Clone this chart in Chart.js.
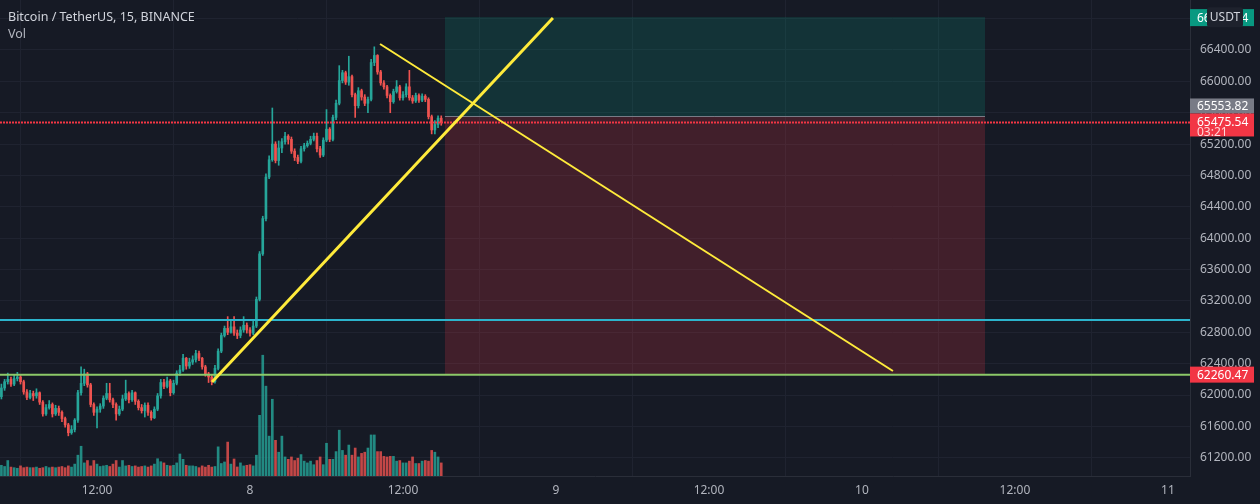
<!DOCTYPE html>
<html>
<head>
<meta charset="utf-8">
<script src="https://cdn.jsdelivr.net/npm/chart.js@4.4.1/dist/chart.umd.min.js"></script>
<style>
  html, body { margin: 0; background: #161a25; }
  #wrap { position: relative; width: 1260px; height: 504px; }
  #title {
    position: absolute; left: 8px; top: 8px;
    font: 12.5px "Noto Sans", sans-serif; color: #d1d4dc; line-height: 17px;
  }
  #title .vol { color: #b2b5be; }
</style>
</head>
<body>
<div id="wrap">
  <canvas id="chart" width="1260" height="504"></canvas>
  <div id="title">Bitcoin / TetherUS, 15, BINANCE<br><span class="vol">Vol</span></div>
</div>
<script>
// time axis in hours counted from day 7, 00:00 (15 min bars)
const FIRST_BAR = 4.5;
const BAR_STEP = 0.25;
const X_MIN = 4.39;
const X_MAX = 97.73;
const Y_MIN = 60968;
const Y_MAX = 67037;
const TIME_TICKS = [12, 24, 36, 48, 60, 72, 84, 96];
const TIME_LABELS = ["12:00", "8", "12:00", "9", "12:00", "10", "12:00", "11"];
const PRICE_TICKS = [
  61200, 61600, 62000, 62400, 62800, 63200, 63600, 64000,
  64400, 64800, 65200, 65600, 66000, 66400, 66800
];

const firstOpen = 61980;
const closes = [
  62090, 62170, 62200, 62140, 62210, 62230, 62170, 62040, 61970, 62020,
  61990, 62030, 61910, 61760, 61840, 61880, 61760, 61830, 61780, 61700,
  61620, 61520, 61560, 61680, 62030, 62150, 62270, 62130, 61880, 61780,
  61820, 61860, 61960, 62020, 61940, 61880, 61760, 61820, 61950, 62020,
  61940, 62030, 61920, 61840, 61800, 61870, 61780, 61710, 61820, 61990,
  62160, 62110, 62180, 62030, 62150, 62280, 62320, 62470, 62370, 62420,
  62450, 62530, 62470, 62360, 62270, 62230, 62170, 62340, 62560, 62760,
  62850, 62800, 62870, 62790, 62760, 62830, 62890, 62830, 62790, 62880,
  63220, 63800, 64250, 64780, 65000, 65200, 64990, 65150, 65230, 65300,
  65260, 65110, 65030, 64980, 65140, 65180, 65210, 65260, 65300, 65140,
  65060, 65250, 65390, 65260, 65540, 65720, 66010, 66110, 65990, 66060,
  65830, 65690, 65880, 65800, 65720, 65770, 66240, 66330, 66120, 65980,
  65930, 65820, 65740, 65870, 65930, 65790, 65830, 65930, 65790, 65750,
  65820, 65760, 65810, 65770, 65550, 65380, 65450, 65530, 65475.54
];
const highs = [
  62140, 62200, 62280, 62230, 62260, 62290, 62250, 62190, 62070, 62060,
  62050, 62080, 62040, 61930, 61880, 61930, 61900, 61870, 61860, 61800,
  61720, 61640, 61610, 61700, 62060, 62360, 62330, 62290, 62150, 61900,
  61850, 61890, 61990, 62150, 62150, 61960, 61900, 61860, 62000, 62190,
  62040, 62060, 62040, 61940, 61880, 61900, 61900, 61800, 61850, 62020,
  62200, 62200, 62230, 62200, 62190, 62310, 62380, 62520, 62480, 62470,
  62500, 62570, 62560, 62480, 62380, 62290, 62260, 62380, 62590, 62790,
  62880, 63000, 62960, 63000, 62830, 62870, 63000, 62920, 62860, 62950,
  63250, 63830, 64280, 64820, 65050, 65660, 65230, 65240, 65270, 65350,
  65320, 65290, 65140, 65060, 65170, 65210, 65240, 65300, 65340, 65340,
  65170, 65280, 65640, 65410, 65570, 65760, 66200, 66140, 66130, 66320,
  66080, 65850, 65920, 65900, 65830, 65800, 66280, 66440, 66340, 66140,
  66010, 65950, 65840, 65900, 66010, 65950, 65870, 65970, 66140, 65820,
  65850, 65840, 65840, 65830, 65790, 65570, 65500, 65560, 65560
];
const lows = [
  61950, 62060, 62140, 62110, 62120, 62180, 62140, 62010, 61940, 61950,
  61930, 61960, 61880, 61730, 61740, 61820, 61720, 61740, 61740, 61660,
  61590, 61480, 61500, 61530, 61650, 62000, 62120, 62100, 61850, 61740,
  61580, 61780, 61830, 61940, 61910, 61840, 61680, 61740, 61800, 61930,
  61900, 61920, 61880, 61810, 61770, 61720, 61740, 61680, 61700, 61800,
  61960, 62080, 62090, 61990, 62010, 62130, 62250, 62300, 62330, 62340,
  62390, 62420, 62440, 62330, 62240, 62160, 62130, 62150, 62320, 62540,
  62740, 62770, 62790, 62760, 62720, 62730, 62800, 62790, 62750, 62770,
  62860, 63200, 63780, 64220, 64760, 64980, 64960, 64930, 65090, 65200,
  65200, 65080, 64990, 64950, 64960, 65110, 65160, 65190, 65240, 65100,
  65030, 65040, 65230, 65230, 65240, 65510, 65700, 65980, 65960, 65950,
  65800, 65540, 65660, 65760, 65690, 65600, 65750, 66200, 66090, 65950,
  65900, 65790, 65600, 65720, 65850, 65760, 65760, 65800, 65760, 65720,
  65730, 65730, 65740, 65740, 65520, 65330, 65330, 65410, 65440
];
const volumes = [
  90, 80, 130, 75, 70, 65, 85, 70, 75, 70,
  70, 75, 65, 70, 80, 70, 75, 70, 75, 80,
  70, 85, 75, 100, 175, 250, 110, 130, 85, 130,
  100, 80, 85, 90, 80, 100, 130, 75, 130, 85,
  90, 80, 85, 75, 80, 85, 75, 85, 100, 145,
  120, 110, 90, 85, 90, 110, 185, 140, 90, 85,
  85, 80, 70, 85, 75, 90, 75, 80, 245, 105,
  118, 285, 100, 143, 76, 110, 85, 90, 95, 85,
  175, 510, 1015, 755, 335, 645, 300, 200, 335, 160,
  140, 160, 130, 150, 180, 125, 110, 125, 95, 130,
  160, 95, 275, 140, 140, 205, 385, 215, 175, 260,
  175, 235, 160, 190, 200, 235, 345, 345, 205, 205,
  165, 160, 165, 165, 125, 130, 110, 110, 125, 160,
  105, 105, 125, 130, 125, 215, 200, 160, 110
];

// drawings
const supportLevel = 62260.47;
const resistLevel = 62957;
const lastPrice = 65475.54;
const countdown = "03:21";
const entryPrice = 65553.82;
const targetPrice = 66818.64;
const stopPrice = 62260.47;
const positionStart = 39.29;
const positionEnd = 81.65;
const trendUp = [{ x: 21.02, y: 62167 }, { x: 47.76, y: 66808 }];
const trendDown = [{ x: 34.2, y: 66476 }, { x: 74.43, y: 62307 }];

const GREEN = "#26a69a";
const RED = "#ef5350";

const times = closes.map((c, i) => FIRST_BAR + i * BAR_STEP);
const opens = closes.map((c, i) => (i === 0 ? firstOpen : closes[i - 1]));
const isUp = closes.map((c, i) => c >= opens[i]);

const positionPlugin = {
  id: "position",
  beforeDatasetsDraw(chart) {
    const { ctx, chartArea, scales } = chart;
    const x0 = scales.x.getPixelForValue(positionStart);
    const x1 = scales.x.getPixelForValue(positionEnd);
    const yT = scales.y.getPixelForValue(targetPrice);
    const yE = scales.y.getPixelForValue(entryPrice);
    const yS = scales.y.getPixelForValue(stopPrice);
    ctx.save();
    ctx.beginPath();
    ctx.rect(chartArea.left, chartArea.top, chartArea.width, chartArea.height);
    ctx.clip();
    ctx.fillStyle = "rgba(8, 153, 129, 0.2)";
    ctx.fillRect(x0, yT, x1 - x0, yE - yT);
    ctx.fillStyle = "rgba(242, 54, 69, 0.2)";
    ctx.fillRect(x0, yE, x1 - x0, yS - yE);
    ctx.strokeStyle = "#787b86";
    ctx.lineWidth = 1;
    ctx.beginPath();
    ctx.moveTo(x0, Math.round(yE) + 0.5);
    ctx.lineTo(x1, Math.round(yE) + 0.5);
    ctx.stroke();
    ctx.restore();
  }
};

function priceTag(ctx, left, top, height, bg, text, color) {
  ctx.fillStyle = bg;
  ctx.fillRect(left, top, 64, height);
  ctx.fillStyle = color;
  ctx.textAlign = "left";
  ctx.textBaseline = "middle";
  ctx.fillText(text, left + 7, top + height / 2 + 0.5);
}

const labelsPlugin = {
  id: "axisLabels",
  afterDraw(chart) {
    const { ctx, scales, chartArea } = chart;
    const left = chartArea.right;
    ctx.save();
    ctx.font = "12px 'Noto Sans', sans-serif";

    const yT = scales.y.getPixelForValue(targetPrice);
    priceTag(ctx, left, yT - 8, 17, "#089981", targetPrice.toFixed(2), "#ffffff");
    // currency badge over the target tag
    ctx.fillStyle = "#1e222d";
    ctx.beginPath();
    ctx.roundRect(left + 17, yT - 10, 36, 20, 3);
    ctx.fill();
    ctx.fillStyle = "#d1d4dc";
    ctx.textAlign = "center";
    ctx.fillText("USDT", left + 35, yT + 0.5);

    const yL = scales.y.getPixelForValue(lastPrice);
    const yE = scales.y.getPixelForValue(entryPrice);
    const redTop = yL - 9;
    const grayTop = Math.min(yE - 8, redTop - 15);
    priceTag(ctx, left, grayTop, 15, "#787b86", entryPrice.toFixed(2), "#ffffff");

    ctx.fillStyle = "#f23645";
    ctx.fillRect(left, redTop, 64, 23);
    ctx.fillStyle = "#ffffff";
    ctx.textAlign = "left";
    ctx.textBaseline = "middle";
    ctx.fillText(lastPrice.toFixed(2), left + 7, yL + 0.5);
    ctx.fillStyle = "#ffd6d9";
    ctx.fillText(countdown, left + 7, yL + 10.5);

    const yS = scales.y.getPixelForValue(stopPrice);
    priceTag(ctx, left, yS - 8, 16, "#f23645", stopPrice.toFixed(2), "#ffffff");
    ctx.restore();
  }
};

Chart.defaults.font.family = "'Noto Sans', sans-serif";
Chart.defaults.font.size = 12;

new Chart(document.getElementById("chart"), {
  type: "bar",
  data: {
    datasets: [
      {
        type: "line",
        data: trendUp,
        borderColor: "#ffeb3b",
        borderWidth: 3,
        pointRadius: 0,
        yAxisID: "y",
        order: 0
      },
      {
        type: "line",
        data: trendDown,
        borderColor: "#ffeb3b",
        borderWidth: 2,
        pointRadius: 0,
        yAxisID: "y",
        order: 0
      },
      {
        type: "line",
        data: [{ x: X_MIN, y: lastPrice }, { x: X_MAX, y: lastPrice }],
        borderColor: "#f23645",
        borderWidth: 2,
        borderDash: [2, 1],
        pointRadius: 0,
        yAxisID: "y",
        order: 0
      },
      {
        type: "line",
        data: [{ x: X_MIN, y: resistLevel }, { x: X_MAX, y: resistLevel }],
        borderColor: "#2cb4cc",
        borderWidth: 2,
        pointRadius: 0,
        yAxisID: "y",
        order: 0
      },
      {
        type: "line",
        data: [{ x: X_MIN, y: supportLevel }, { x: X_MAX, y: supportLevel }],
        borderColor: "#8cc968",
        borderWidth: 2,
        pointRadius: 0,
        yAxisID: "y",
        order: 0
      },
      {
        // wicks
        data: times.map((t, i) => ({ x: t, y: [lows[i], highs[i]] })),
        backgroundColor: isUp.map(u => (u ? GREEN : RED)),
        barThickness: 1,
        grouped: false,
        yAxisID: "y",
        order: 2
      },
      {
        // bodies
        data: times.map((t, i) => ({ x: t, y: [opens[i], closes[i]] })),
        backgroundColor: isUp.map(u => (u ? GREEN : RED)),
        barThickness: 2,
        minBarLength: 1,
        grouped: false,
        yAxisID: "y",
        order: 1
      },
      {
        data: times.map((t, i) => ({ x: t, y: volumes[i] })),
        backgroundColor: isUp.map(u => (u ? "rgba(38, 166, 154, 0.8)" : "rgba(239, 83, 80, 0.8)")),
        barThickness: 2,
        grouped: false,
        yAxisID: "yv",
        order: 3
      }
    ]
  },
  options: {
    responsive: false,
    animation: false,
    devicePixelRatio: 1,
    layout: { padding: 0 },
    plugins: {
      legend: { display: false },
      tooltip: { enabled: false }
    },
    scales: {
      x: {
        type: "linear",
        min: X_MIN,
        max: X_MAX,
        offset: false,
        afterBuildTicks: s => { s.ticks = TIME_TICKS.map(v => ({ value: v })); },
        afterFit: s => { s.height = 28; s.paddingLeft = 0; s.paddingRight = 0; },
        ticks: {
          autoSkip: false,
          maxRotation: 0,
          padding: 7,
          color: "#b2b5be",
          callback: v => {
            const k = TIME_TICKS.indexOf(v);
            return k >= 0 ? TIME_LABELS[k] : "";
          }
        },
        grid: { color: "#1f2330", drawTicks: false },
        border: { color: "#2a2e39" }
      },
      y: {
        position: "right",
        min: Y_MIN,
        max: Y_MAX,
        afterBuildTicks: s => { s.ticks = PRICE_TICKS.map(v => ({ value: v })); },
        afterFit: s => { s.width = 70; s.paddingTop = 0; s.paddingBottom = 0; },
        ticks: {
          autoSkip: false,
          padding: 10,
          color: "#b2b5be",
          callback: v => v.toFixed(2)
        },
        grid: { color: "#1f2330", drawTicks: false },
        border: { color: "#2a2e39" }
      },
      yv: {
        display: false,
        min: 0,
        max: 4000
      }
    }
  },
  plugins: [positionPlugin, labelsPlugin]
});
</script>
</body>
</html>
